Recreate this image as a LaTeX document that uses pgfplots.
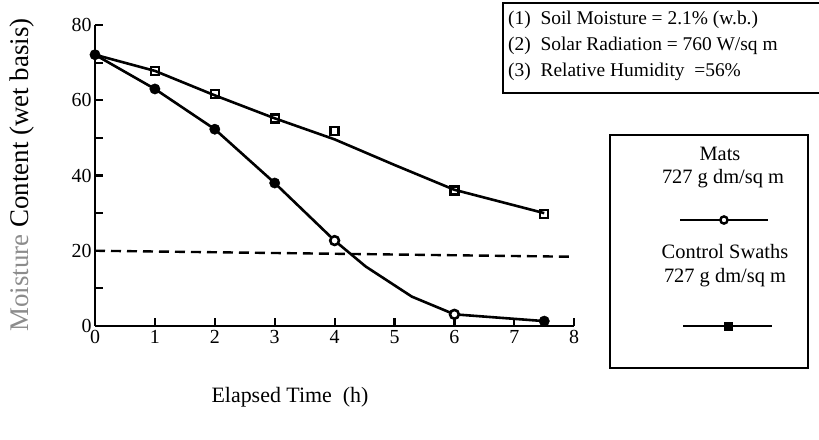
\documentclass[border=0pt]{standalone}
\usepackage{pgfplots}
\pgfplotsset{compat=1.18}
\usepackage{fontspec}
\setmainfont{Liberation Serif}
\begin{document}
\begin{tikzpicture}[x=1bp,y=1bp]
\useasboundingbox (-95,-114) rectangle (724,326);
\begin{axis}[
  anchor=origin, at={(0,0)},
  x=59.9bp, y=3.7625bp,
  xmin=0, xmax=8, ymin=0, ymax=80,
  axis x line*=bottom, axis y line*=left,
  axis line style={line width=2.6bp},
  xtick={0,1,...,8}, ytick={0,20,...,80}, minor ytick={10,30,50,70},
  tick align=inside,
  major tick length=8bp, minor tick length=8bp,
  every tick/.style={line width=2.2bp, black},
  ticklabel style={font=\fontsize{20}{22}\selectfont},
  xticklabel style={yshift=-1bp},
  /pgf/number format/assume math mode=true,
  clip=false,
]
% Mats line
\addplot[black, line width=2.6bp, no marks] coordinates {
(0,72.1) (1,63.0) (2,52.3) (3,38.0) (4,22.7) (4.52,15.8) (5.29,7.8) (6,3.1) (7.5,1.3)};
% Control swaths line
\addplot[black, line width=2.6bp, no marks] coordinates {
(0,72.1) (1,67.8) (2,61.3) (3,55.2) (4,49.6) (5,42.8) (6,36.2) (7.5,30.0)};
% Mats marks
\addplot[only marks, mark=*, mark size=5.2bp, black] coordinates {
(0,72.1) (1,63.0) (2,52.3) (3,38.0) (7.5,1.3)};
\addplot[only marks, mark=*, mark size=4.4bp, mark options={fill=white, draw=black, line width=2.6bp}] coordinates {
(4,22.7) (6,3.1)};
% Control swaths marks
\addplot[only marks, mark=square, mark size=4.0bp, mark options={fill=white, draw=black, line width=2.4bp}] coordinates {
(1,67.8) (2,61.7) (3,55.2) (4,51.9) (6,36.0) (7.5,29.8)};
% 20 % line
\addplot[black, line width=2.4bp, dash pattern=on 10bp off 6bp, no marks] coordinates {(0,20) (8,18.4)};
% legend samples
\addplot[black, line width=2.4bp, no marks] coordinates {(9.77,28.17) (11.24,28.17)};
\addplot[only marks, mark=*, mark size=3.6bp, mark options={fill=white, draw=black, line width=2.4bp}] coordinates {(10.5,28.17)};
\addplot[black, line width=2.4bp, no marks] coordinates {(9.82,0) (11.30,0)};
\addplot[only marks, mark=square*, mark size=4.2bp, black] coordinates {(10.57,0)};
\end{axis}
% info box
\draw[line width=2.2bp] (408,323) rectangle (740,233);
\begin{scope}[every node/.style={anchor=west, inner sep=0pt, font=\fontsize{19.5}{21}\selectfont}]
\node at (413,306) {(1)\enspace Soil Moisture = 2.1\% (w.b.)};
\node at (413,280) {(2)\enspace Solar Radiation = 760 W/sq m};
\node at (413,254) {(3)\enspace Relative Humidity\enspace =56\%};
\end{scope}
% legend box
\draw[line width=2.2bp] (515,191) rectangle (713,-42);
\begin{scope}[every node/.style={anchor=center, inner sep=0pt, font=\fontsize{20.5}{22}\selectfont}]
\node at (625,172) {Mats};
\node at (628,147) {727 g dm/sq m};
\node at (630,74) {Control Swaths};
\node at (630,48) {727 g dm/sq m};
\end{scope}
% axis labels
\node[rotate=90, font=\fontsize{27}{29}\selectfont] at (-73,151) {{\color{black!45}Moisture} Content (wet basis)};
\node[font=\fontsize{22}{24}\selectfont] at (195,-71) {Elapsed Time\enspace(h)};
\end{tikzpicture}
\end{document}
